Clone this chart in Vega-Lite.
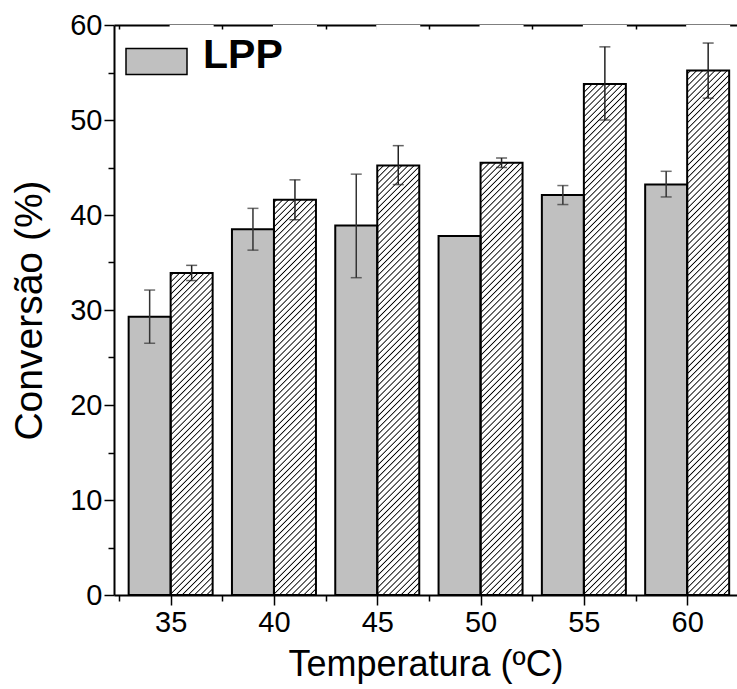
{
"$schema": "https://vega.github.io/schema/vega-lite/v6.json",
"width": 623,
"height": 570,
"autosize": {"type": "none"},
"padding": {"left": 114, "top": 25, "right": 0, "bottom": 94},
"background": "white",
"config": {
 "font": "Liberation Sans",
 "view": {"stroke": null},
 "axis": {"domainColor": "black", "domainWidth": 2, "tickColor": "black", "tickWidth": 1.5, "labelColor": "black", "titleColor": "black", "labelFont": "Liberation Sans", "titleFont": "Liberation Sans", "titleFontWeight": "normal", "grid": false}
},
"data": {"values": [
 {"temp": 35, "series": "LPP", "value": 29.3, "lo": 26.5, "hi": 32.1},
 {"temp": 35, "series": "LPF", "value": 33.9, "lo": 33.1, "hi": 34.7},
 {"temp": 40, "series": "LPP", "value": 38.5, "lo": 36.3, "hi": 40.7},
 {"temp": 40, "series": "LPF", "value": 41.6, "lo": 39.5, "hi": 43.7},
 {"temp": 45, "series": "LPP", "value": 38.9, "lo": 33.4, "hi": 44.3},
 {"temp": 45, "series": "LPF", "value": 45.2, "lo": 43.2, "hi": 47.3},
 {"temp": 50, "series": "LPP", "value": 37.8},
 {"temp": 50, "series": "LPF", "value": 45.5, "lo": 45.0, "hi": 46.0},
 {"temp": 55, "series": "LPP", "value": 42.1, "lo": 41.1, "hi": 43.1},
 {"temp": 55, "series": "LPF", "value": 53.8, "lo": 50.0, "hi": 57.7},
 {"temp": 60, "series": "LPP", "value": 43.2, "lo": 41.9, "hi": 44.6},
 {"temp": 60, "series": "LPF", "value": 55.2, "lo": 52.3, "hi": 58.1}
]},
"resolve": {"axis": {"x": "independent"}},
"layer": [
 {
  "transform": [{"filter": "datum.series === 'LPF'"}],
  "mark": {"type": "bar", "width": 42, "xOffset": 21, "strokeWidth": 0, "fill": {"gradient": "linear", "x1": 0, "y1": 0, "x2": 0.0787, "y2": 1.0679, "stops": [
{"offset":0,"color":"#000"},{"offset":0.002,"color":"#fff"},{"offset":0.008,"color":"#fff"},
{"offset":0.01,"color":"#000"},{"offset":0.012,"color":"#fff"},{"offset":0.018,"color":"#fff"},
{"offset":0.02,"color":"#000"},{"offset":0.022,"color":"#fff"},{"offset":0.028,"color":"#fff"},
{"offset":0.03,"color":"#000"},{"offset":0.032,"color":"#fff"},{"offset":0.038,"color":"#fff"},
{"offset":0.04,"color":"#000"},{"offset":0.042,"color":"#fff"},{"offset":0.048,"color":"#fff"},
{"offset":0.05,"color":"#000"},{"offset":0.052,"color":"#fff"},{"offset":0.058,"color":"#fff"},
{"offset":0.06,"color":"#000"},{"offset":0.062,"color":"#fff"},{"offset":0.068,"color":"#fff"},
{"offset":0.07,"color":"#000"},{"offset":0.072,"color":"#fff"},{"offset":0.078,"color":"#fff"},
{"offset":0.08,"color":"#000"},{"offset":0.082,"color":"#fff"},{"offset":0.088,"color":"#fff"},
{"offset":0.09,"color":"#000"},{"offset":0.092,"color":"#fff"},{"offset":0.098,"color":"#fff"},
{"offset":0.10,"color":"#000"},{"offset":0.102,"color":"#fff"},{"offset":0.108,"color":"#fff"},
{"offset":0.11,"color":"#000"},{"offset":0.112,"color":"#fff"},{"offset":0.118,"color":"#fff"},
{"offset":0.12,"color":"#000"},{"offset":0.122,"color":"#fff"},{"offset":0.128,"color":"#fff"},
{"offset":0.13,"color":"#000"},{"offset":0.132,"color":"#fff"},{"offset":0.138,"color":"#fff"},
{"offset":0.14,"color":"#000"},{"offset":0.142,"color":"#fff"},{"offset":0.148,"color":"#fff"},
{"offset":0.15,"color":"#000"},{"offset":0.152,"color":"#fff"},{"offset":0.158,"color":"#fff"},
{"offset":0.16,"color":"#000"},{"offset":0.162,"color":"#fff"},{"offset":0.168,"color":"#fff"},
{"offset":0.17,"color":"#000"},{"offset":0.172,"color":"#fff"},{"offset":0.178,"color":"#fff"},
{"offset":0.18,"color":"#000"},{"offset":0.182,"color":"#fff"},{"offset":0.188,"color":"#fff"},
{"offset":0.19,"color":"#000"},{"offset":0.192,"color":"#fff"},{"offset":0.198,"color":"#fff"},
{"offset":0.20,"color":"#000"},{"offset":0.202,"color":"#fff"},{"offset":0.208,"color":"#fff"},
{"offset":0.21,"color":"#000"},{"offset":0.212,"color":"#fff"},{"offset":0.218,"color":"#fff"},
{"offset":0.22,"color":"#000"},{"offset":0.222,"color":"#fff"},{"offset":0.228,"color":"#fff"},
{"offset":0.23,"color":"#000"},{"offset":0.232,"color":"#fff"},{"offset":0.238,"color":"#fff"},
{"offset":0.24,"color":"#000"},{"offset":0.242,"color":"#fff"},{"offset":0.248,"color":"#fff"},
{"offset":0.25,"color":"#000"},{"offset":0.252,"color":"#fff"},{"offset":0.258,"color":"#fff"},
{"offset":0.26,"color":"#000"},{"offset":0.262,"color":"#fff"},{"offset":0.268,"color":"#fff"},
{"offset":0.27,"color":"#000"},{"offset":0.272,"color":"#fff"},{"offset":0.278,"color":"#fff"},
{"offset":0.28,"color":"#000"},{"offset":0.282,"color":"#fff"},{"offset":0.288,"color":"#fff"},
{"offset":0.29,"color":"#000"},{"offset":0.292,"color":"#fff"},{"offset":0.298,"color":"#fff"},
{"offset":0.30,"color":"#000"},{"offset":0.302,"color":"#fff"},{"offset":0.308,"color":"#fff"},
{"offset":0.31,"color":"#000"},{"offset":0.312,"color":"#fff"},{"offset":0.318,"color":"#fff"},
{"offset":0.32,"color":"#000"},{"offset":0.322,"color":"#fff"},{"offset":0.328,"color":"#fff"},
{"offset":0.33,"color":"#000"},{"offset":0.332,"color":"#fff"},{"offset":0.338,"color":"#fff"},
{"offset":0.34,"color":"#000"},{"offset":0.342,"color":"#fff"},{"offset":0.348,"color":"#fff"},
{"offset":0.35,"color":"#000"},{"offset":0.352,"color":"#fff"},{"offset":0.358,"color":"#fff"},
{"offset":0.36,"color":"#000"},{"offset":0.362,"color":"#fff"},{"offset":0.368,"color":"#fff"},
{"offset":0.37,"color":"#000"},{"offset":0.372,"color":"#fff"},{"offset":0.378,"color":"#fff"},
{"offset":0.38,"color":"#000"},{"offset":0.382,"color":"#fff"},{"offset":0.388,"color":"#fff"},
{"offset":0.39,"color":"#000"},{"offset":0.392,"color":"#fff"},{"offset":0.398,"color":"#fff"},
{"offset":0.40,"color":"#000"},{"offset":0.402,"color":"#fff"},{"offset":0.408,"color":"#fff"},
{"offset":0.41,"color":"#000"},{"offset":0.412,"color":"#fff"},{"offset":0.418,"color":"#fff"},
{"offset":0.42,"color":"#000"},{"offset":0.422,"color":"#fff"},{"offset":0.428,"color":"#fff"},
{"offset":0.43,"color":"#000"},{"offset":0.432,"color":"#fff"},{"offset":0.438,"color":"#fff"},
{"offset":0.44,"color":"#000"},{"offset":0.442,"color":"#fff"},{"offset":0.448,"color":"#fff"},
{"offset":0.45,"color":"#000"},{"offset":0.452,"color":"#fff"},{"offset":0.458,"color":"#fff"},
{"offset":0.46,"color":"#000"},{"offset":0.462,"color":"#fff"},{"offset":0.468,"color":"#fff"},
{"offset":0.47,"color":"#000"},{"offset":0.472,"color":"#fff"},{"offset":0.478,"color":"#fff"},
{"offset":0.48,"color":"#000"},{"offset":0.482,"color":"#fff"},{"offset":0.488,"color":"#fff"},
{"offset":0.49,"color":"#000"},{"offset":0.492,"color":"#fff"},{"offset":0.498,"color":"#fff"},
{"offset":0.50,"color":"#000"},{"offset":0.502,"color":"#fff"},{"offset":0.508,"color":"#fff"},
{"offset":0.51,"color":"#000"},{"offset":0.512,"color":"#fff"},{"offset":0.518,"color":"#fff"},
{"offset":0.52,"color":"#000"},{"offset":0.522,"color":"#fff"},{"offset":0.528,"color":"#fff"},
{"offset":0.53,"color":"#000"},{"offset":0.532,"color":"#fff"},{"offset":0.538,"color":"#fff"},
{"offset":0.54,"color":"#000"},{"offset":0.542,"color":"#fff"},{"offset":0.548,"color":"#fff"},
{"offset":0.55,"color":"#000"},{"offset":0.552,"color":"#fff"},{"offset":0.558,"color":"#fff"},
{"offset":0.56,"color":"#000"},{"offset":0.562,"color":"#fff"},{"offset":0.568,"color":"#fff"},
{"offset":0.57,"color":"#000"},{"offset":0.572,"color":"#fff"},{"offset":0.578,"color":"#fff"},
{"offset":0.58,"color":"#000"},{"offset":0.582,"color":"#fff"},{"offset":0.588,"color":"#fff"},
{"offset":0.59,"color":"#000"},{"offset":0.592,"color":"#fff"},{"offset":0.598,"color":"#fff"},
{"offset":0.60,"color":"#000"},{"offset":0.602,"color":"#fff"},{"offset":0.608,"color":"#fff"},
{"offset":0.61,"color":"#000"},{"offset":0.612,"color":"#fff"},{"offset":0.618,"color":"#fff"},
{"offset":0.62,"color":"#000"},{"offset":0.622,"color":"#fff"},{"offset":0.628,"color":"#fff"},
{"offset":0.63,"color":"#000"},{"offset":0.632,"color":"#fff"},{"offset":0.638,"color":"#fff"},
{"offset":0.64,"color":"#000"},{"offset":0.642,"color":"#fff"},{"offset":0.648,"color":"#fff"},
{"offset":0.65,"color":"#000"},{"offset":0.652,"color":"#fff"},{"offset":0.658,"color":"#fff"},
{"offset":0.66,"color":"#000"},{"offset":0.662,"color":"#fff"},{"offset":0.668,"color":"#fff"},
{"offset":0.67,"color":"#000"},{"offset":0.672,"color":"#fff"},{"offset":0.678,"color":"#fff"},
{"offset":0.68,"color":"#000"},{"offset":0.682,"color":"#fff"},{"offset":0.688,"color":"#fff"},
{"offset":0.69,"color":"#000"},{"offset":0.692,"color":"#fff"},{"offset":0.698,"color":"#fff"},
{"offset":0.70,"color":"#000"},{"offset":0.702,"color":"#fff"},{"offset":0.708,"color":"#fff"},
{"offset":0.71,"color":"#000"},{"offset":0.712,"color":"#fff"},{"offset":0.718,"color":"#fff"},
{"offset":0.72,"color":"#000"},{"offset":0.722,"color":"#fff"},{"offset":0.728,"color":"#fff"},
{"offset":0.73,"color":"#000"},{"offset":0.732,"color":"#fff"},{"offset":0.738,"color":"#fff"},
{"offset":0.74,"color":"#000"},{"offset":0.742,"color":"#fff"},{"offset":0.748,"color":"#fff"},
{"offset":0.75,"color":"#000"},{"offset":0.752,"color":"#fff"},{"offset":0.758,"color":"#fff"},
{"offset":0.76,"color":"#000"},{"offset":0.762,"color":"#fff"},{"offset":0.768,"color":"#fff"},
{"offset":0.77,"color":"#000"},{"offset":0.772,"color":"#fff"},{"offset":0.778,"color":"#fff"},
{"offset":0.78,"color":"#000"},{"offset":0.782,"color":"#fff"},{"offset":0.788,"color":"#fff"},
{"offset":0.79,"color":"#000"},{"offset":0.792,"color":"#fff"},{"offset":0.798,"color":"#fff"},
{"offset":0.80,"color":"#000"},{"offset":0.802,"color":"#fff"},{"offset":0.808,"color":"#fff"},
{"offset":0.81,"color":"#000"},{"offset":0.812,"color":"#fff"},{"offset":0.818,"color":"#fff"},
{"offset":0.82,"color":"#000"},{"offset":0.822,"color":"#fff"},{"offset":0.828,"color":"#fff"},
{"offset":0.83,"color":"#000"},{"offset":0.832,"color":"#fff"},{"offset":0.838,"color":"#fff"},
{"offset":0.84,"color":"#000"},{"offset":0.842,"color":"#fff"},{"offset":0.848,"color":"#fff"},
{"offset":0.85,"color":"#000"},{"offset":0.852,"color":"#fff"},{"offset":0.858,"color":"#fff"},
{"offset":0.86,"color":"#000"},{"offset":0.862,"color":"#fff"},{"offset":0.868,"color":"#fff"},
{"offset":0.87,"color":"#000"},{"offset":0.872,"color":"#fff"},{"offset":0.878,"color":"#fff"},
{"offset":0.88,"color":"#000"},{"offset":0.882,"color":"#fff"},{"offset":0.888,"color":"#fff"},
{"offset":0.89,"color":"#000"},{"offset":0.892,"color":"#fff"},{"offset":0.898,"color":"#fff"},
{"offset":0.90,"color":"#000"},{"offset":0.902,"color":"#fff"},{"offset":0.908,"color":"#fff"},
{"offset":0.91,"color":"#000"},{"offset":0.912,"color":"#fff"},{"offset":0.918,"color":"#fff"},
{"offset":0.92,"color":"#000"},{"offset":0.922,"color":"#fff"},{"offset":0.928,"color":"#fff"},
{"offset":0.93,"color":"#000"},{"offset":0.932,"color":"#fff"},{"offset":0.938,"color":"#fff"},
{"offset":0.94,"color":"#000"},{"offset":0.942,"color":"#fff"},{"offset":0.948,"color":"#fff"},
{"offset":0.95,"color":"#000"},{"offset":0.952,"color":"#fff"},{"offset":0.958,"color":"#fff"},
{"offset":0.96,"color":"#000"},{"offset":0.962,"color":"#fff"},{"offset":0.968,"color":"#fff"},
{"offset":0.97,"color":"#000"},{"offset":0.972,"color":"#fff"},{"offset":0.978,"color":"#fff"},
{"offset":0.98,"color":"#000"},{"offset":0.982,"color":"#fff"},{"offset":0.988,"color":"#fff"},
{"offset":0.99,"color":"#000"},{"offset":0.992,"color":"#fff"},{"offset":0.998,"color":"#fff"},
{"offset":1,"color":"#000"}
  ]}},
  "encoding": {
   "x": {"field": "temp", "type": "quantitative", "scale": {"domain": [32.5, 62.17], "nice": false, "zero": false},
    "axis": {"title": "Temperatura (ºC)", "values": [32.5, 35, 37.5, 40, 42.5, 45, 47.5, 50, 52.5, 55, 57.5, 60], "labelExpr": "datum.value % 5 === 0 ? datum.label : ''", "tickSize": {"condition": {"test": "datum.value % 5 !== 0", "value": 6}, "value": 10}, "labelFontSize": 29, "labelPadding": 3, "labelOverlap": false, "labelFlush": false, "titleFontSize": 36, "titlePadding": 10}},
   "y": {"datum": 60, "type": "quantitative", "scale": {"domain": [0, 60], "nice": false},
    "axis": {"title": "Conversão (%)", "values": [0, 5, 10, 15, 20, 25, 30, 35, 40, 45, 50, 55, 60], "labelExpr": "datum.value % 10 === 0 ? datum.label : ''", "tickSize": {"condition": {"test": "datum.value % 10 !== 0", "value": 6}, "value": 10}, "labelFontSize": 29, "labelPadding": 2, "labelOverlap": false, "titleFontSize": 39, "titlePadding": 20}},
   "y2": {"datum": 0}
  }
 },
 {
  "transform": [{"filter": "datum.series === 'LPF'"}],
  "mark": {"type": "bar", "width": 44, "xOffset": 21, "fill": "white", "strokeWidth": 0},
  "encoding": {
   "x": {"field": "temp", "type": "quantitative", "scale": {"domain": [32.5, 62.17], "nice": false, "zero": false}, "axis": null},
   "y": {"field": "value", "type": "quantitative", "title": "Conversão (%)"},
   "y2": {"datum": 60}
  }
 },
 {
  "transform": [{"filter": "datum.series === 'LPP'"}],
  "mark": {"type": "bar", "width": 42, "xOffset": -21, "stroke": "black", "strokeWidth": 2},
  "encoding": {
   "x": {"field": "temp", "type": "quantitative", "scale": {"domain": [32.5, 62.17], "nice": false, "zero": false}, "axis": null},
   "y": {"field": "value", "type": "quantitative", "title": "Conversão (%)"},
   "fill": {"field": "series", "type": "nominal",
    "scale": {"domain": ["LPP"], "range": ["#c0c0c0"]},
    "legend": {"orient": "none", "legendX": 11, "legendY": 5, "title": null, "padding": 0, "symbolType": "M-1,-0.4262H1V0.4262H-1Z", "symbolSize": 3721, "symbolStrokeColor": "black", "symbolStrokeWidth": 1.5, "symbolOpacity": 1, "labelFont": "Liberation Sans", "labelFontWeight": "bold", "labelFontSize": 41, "labelColor": "black", "labelOffset": 15, "rowPadding": -2, "labelLimit": 300,
     "encode": {
      "symbols": {"update": {"stroke": {"value": "black"}, "strokeWidth": {"value": 1.5}, "opacity": {"value": 1}}},
      "labels": {"update": {"dy": {"value": -6}}}
     }}
   }
  }
 },
 {
  "transform": [{"filter": "datum.series === 'LPF'"}],
  "mark": {"type": "bar", "width": 42, "xOffset": 21, "opacity": 0, "stroke": "black", "strokeWidth": 1.5, "fill": {"gradient": "linear", "x1": 0, "y1": 0, "x2": 1.207, "y2": 0.5144, "stops": [
{"offset":0,"color":"#000"},{"offset":0.016,"color":"#fff"},{"offset":0.0545,"color":"#fff"},
{"offset":0.0705,"color":"#000"},{"offset":0.0865,"color":"#fff"},{"offset":0.125,"color":"#fff"},
{"offset":0.141,"color":"#000"},{"offset":0.157,"color":"#fff"},{"offset":0.1955,"color":"#fff"},
{"offset":0.2115,"color":"#000"},{"offset":0.2275,"color":"#fff"},{"offset":0.266,"color":"#fff"},
{"offset":0.282,"color":"#000"},{"offset":0.298,"color":"#fff"},{"offset":0.3365,"color":"#fff"},
{"offset":0.3525,"color":"#000"},{"offset":0.3685,"color":"#fff"},{"offset":0.407,"color":"#fff"},
{"offset":0.423,"color":"#000"},{"offset":0.439,"color":"#fff"},{"offset":0.4775,"color":"#fff"},
{"offset":0.4935,"color":"#000"},{"offset":0.5095,"color":"#fff"},{"offset":0.548,"color":"#fff"},
{"offset":0.564,"color":"#000"},{"offset":0.58,"color":"#fff"},{"offset":0.6185,"color":"#fff"},
{"offset":0.6345,"color":"#000"},{"offset":0.6505,"color":"#fff"},{"offset":0.689,"color":"#fff"},
{"offset":0.705,"color":"#000"},{"offset":0.721,"color":"#fff"},{"offset":0.7595,"color":"#fff"},
{"offset":0.7755,"color":"#000"},{"offset":0.7915,"color":"#fff"},{"offset":0.83,"color":"#fff"},
{"offset":0.846,"color":"#000"},{"offset":0.862,"color":"#fff"},{"offset":0.9005,"color":"#fff"},
{"offset":0.9165,"color":"#000"},{"offset":0.9325,"color":"#fff"},{"offset":0.971,"color":"#fff"},
{"offset":0.987,"color":"#000"},{"offset":1,"color":"#777"}
  ]}},
  "encoding": {
   "x": {"field": "temp", "type": "quantitative", "scale": {"domain": [32.5, 62.17], "nice": false, "zero": false}, "axis": null},
   "y": {"field": "value", "type": "quantitative", "title": "Conversão (%)"},
   "strokeOpacity": {"field": "series", "type": "nominal",
    "scale": {"domain": ["LPF"], "range": [1]},
    "legend": {"orient": "none", "legendX": 11, "legendY": 56, "title": null, "padding": 0, "symbolType": "M-1,-0.4262H1V0.4262H-1Z", "symbolSize": 3721, "symbolStrokeWidth": 1.5, "symbolOpacity": 1, "labelFont": "Liberation Sans", "labelFontWeight": "bold", "labelFontSize": 41, "labelColor": "black", "labelOffset": 15, "labelLimit": 300,
     "encode": {
      "labels": {"update": {"dy": {"value": -6}}}
     }}
   }
  }
 },
 {
  "transform": [{"filter": "datum.series === 'LPF'"}],
  "mark": {"type": "bar", "width": 42, "xOffset": 21, "fill": "transparent", "stroke": "black", "strokeWidth": 2},
  "encoding": {
   "x": {"field": "temp", "type": "quantitative", "scale": {"domain": [32.5, 62.17], "nice": false, "zero": false},
    "axis": {"orient": "top", "title": null, "labels": false, "values": [32.5, 35, 37.5, 40, 42.5, 45, 47.5, 50, 52.5, 55, 57.5, 60], "tickSize": -4, "domainWidth": 2}},
   "y": {"field": "value", "type": "quantitative", "title": "Conversão (%)"}
  }
 },
 {
  "transform": [{"filter": "datum.series === 'LPP'"}],
  "mark": {"type": "rule", "xOffset": -21, "color": "#333", "strokeWidth": 1.5},
  "encoding": {
   "x": {"field": "temp", "type": "quantitative", "scale": {"domain": [32.5, 62.17], "nice": false, "zero": false}, "axis": null},
   "y": {"field": "lo", "type": "quantitative", "title": "Conversão (%)"},
   "y2": {"field": "hi"}
  }
 },
 {
  "transform": [{"filter": "datum.series === 'LPP'"}],
  "mark": {"type": "tick", "orient": "horizontal", "size": 11, "thickness": 1.5, "xOffset": -21, "color": "#333"},
  "encoding": {
   "x": {"field": "temp", "type": "quantitative", "scale": {"domain": [32.5, 62.17], "nice": false, "zero": false}, "axis": null},
   "y": {"field": "lo", "type": "quantitative", "title": "Conversão (%)"}
  }
 },
 {
  "transform": [{"filter": "datum.series === 'LPP'"}],
  "mark": {"type": "tick", "orient": "horizontal", "size": 11, "thickness": 1.5, "xOffset": -21, "color": "#333"},
  "encoding": {
   "x": {"field": "temp", "type": "quantitative", "scale": {"domain": [32.5, 62.17], "nice": false, "zero": false}, "axis": null},
   "y": {"field": "hi", "type": "quantitative", "title": "Conversão (%)"}
  }
 },
 {
  "transform": [{"filter": "datum.series === 'LPF'"}],
  "mark": {"type": "rule", "xOffset": 21, "color": "#222", "strokeWidth": 1.5},
  "encoding": {
   "x": {"field": "temp", "type": "quantitative", "scale": {"domain": [32.5, 62.17], "nice": false, "zero": false}, "axis": null},
   "y": {"field": "lo", "type": "quantitative", "title": "Conversão (%)"},
   "y2": {"field": "hi"}
  }
 },
 {
  "transform": [{"filter": "datum.series === 'LPF'"}],
  "mark": {"type": "tick", "orient": "horizontal", "size": 11, "thickness": 1.5, "xOffset": 21, "color": "#222"},
  "encoding": {
   "x": {"field": "temp", "type": "quantitative", "scale": {"domain": [32.5, 62.17], "nice": false, "zero": false}, "axis": null},
   "y": {"field": "lo", "type": "quantitative", "title": "Conversão (%)"}
  }
 },
 {
  "transform": [{"filter": "datum.series === 'LPF'"}],
  "mark": {"type": "tick", "orient": "horizontal", "size": 11, "thickness": 1.5, "xOffset": 21, "color": "#222"},
  "encoding": {
   "x": {"field": "temp", "type": "quantitative", "scale": {"domain": [32.5, 62.17], "nice": false, "zero": false}, "axis": null},
   "y": {"field": "hi", "type": "quantitative", "title": "Conversão (%)"}
  }
 }
]
}
